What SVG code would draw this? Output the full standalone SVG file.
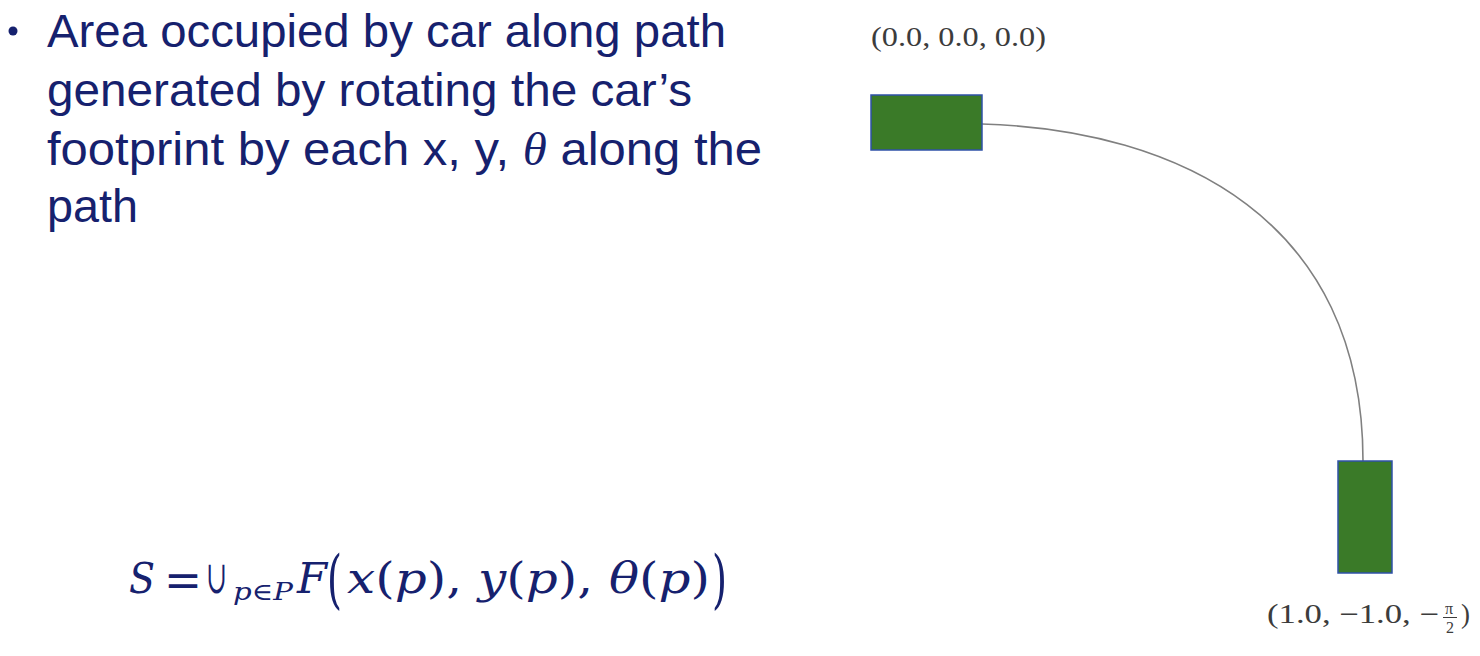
<svg xmlns="http://www.w3.org/2000/svg" width="1480" height="656" viewBox="0 0 1480 656">
<style>
.body{font-family:"Liberation Sans",Arial,sans-serif;font-size:46px;fill:#16216e}
.math{font-family:"DejaVu Serif","Liberation Serif",serif;fill:#16216e}
.it{font-style:italic}
.lab{font-family:"Liberation Serif","DejaVu Serif",serif;font-size:27px;fill:#3c3c3c}
.frac{font-family:"Liberation Serif","DejaVu Serif",serif;font-size:16px;fill:#3c3c3c}
.car{fill:#3a7a28;stroke:#2f52a8;stroke-width:1.5}
.path{fill:none;stroke:#808080;stroke-width:1.6}
</style>
<rect width="1480" height="656" fill="#ffffff"/>
<g id="bullet-text">
<circle cx="13" cy="31" r="4.5" fill="#16216e"/>
<text class="body" x="47" y="47" textLength="679" lengthAdjust="spacingAndGlyphs">Area occupied by car along path</text>
<text class="body" x="47" y="106" textLength="645" lengthAdjust="spacingAndGlyphs">generated by rotating the car’s</text>
<text class="body" x="47" y="165" textLength="715" lengthAdjust="spacingAndGlyphs">footprint by each x, y, <tspan font-family="Liberation Serif, serif" font-style="italic">θ</tspan> along the</text>
<text class="body" x="47" y="222" textLength="91" lengthAdjust="spacingAndGlyphs">path</text>
</g>
<g id="formula">
<text class="math it" x="129" y="593" font-size="42" textLength="26" lengthAdjust="spacingAndGlyphs">S</text>
<text class="math" x="164" y="597" font-size="48" textLength="38" lengthAdjust="spacingAndGlyphs">=</text>
<text class="math" x="206" y="593" font-size="46" textLength="21" lengthAdjust="spacingAndGlyphs">∪</text>
<text class="math it" x="233" y="600" font-size="24" textLength="60" lengthAdjust="spacingAndGlyphs">p∈P</text>
<text class="math it" x="297" y="593" font-size="42" textLength="30" lengthAdjust="spacingAndGlyphs">F</text>
<text class="math" x="327" y="601" font-size="64" textLength="15" lengthAdjust="spacingAndGlyphs">(</text>
<text class="math" x="347" y="593" font-size="42" textLength="363" lengthAdjust="spacingAndGlyphs"><tspan class="it">x</tspan>(<tspan class="it">p</tspan>), <tspan class="it">y</tspan>(<tspan class="it">p</tspan>), <tspan class="it">θ</tspan>(<tspan class="it">p</tspan>)</text>
<text class="math" x="712" y="601" font-size="64" textLength="15" lengthAdjust="spacingAndGlyphs">)</text>
</g>
<g id="connectors">
<path class="path" d="M982,124 C1180,130 1363,220 1363,461"/>
</g>
<g id="start-car">
<rect class="car" x="871" y="95" width="111" height="55"/>
<text class="lab" x="871" y="46" textLength="175" lengthAdjust="spacingAndGlyphs">(0.0, 0.0, 0.0)</text>
</g>
<g id="end-car">
<rect class="car" x="1338" y="461" width="54" height="112"/>
<text class="lab" x="1267" y="623" textLength="172" lengthAdjust="spacingAndGlyphs">(1.0, −1.0, −</text>
<text class="frac" x="1445" y="614">π</text>
<line x1="1443" y1="617.5" x2="1457" y2="617.5" stroke="#3c3c3c" stroke-width="1"/>
<text class="frac" x="1446" y="633">2</text>
<text class="lab" x="1461" y="623">)</text>
</g>
</svg>
